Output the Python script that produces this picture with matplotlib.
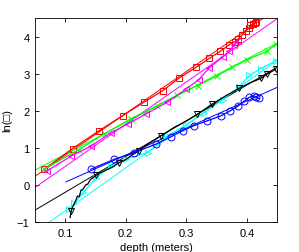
import matplotlib
matplotlib.use("Agg")
import matplotlib.pyplot as plt
import numpy as np

plt.rcParams['font.family'] = ['Liberation Sans', 'DejaVu Sans']

# Red squares
red_x = [0.065, 0.112, 0.156, 0.195, 0.23, 0.261, 0.288, 0.316, 0.338, 0.356, 0.371,
         0.38, 0.386, 0.392, 0.398, 0.403, 0.406, 0.41, 0.413, 0.415]
red_y = [0.42, 0.98, 1.46, 1.87, 2.23, 2.54, 2.88, 3.17, 3.41, 3.6, 3.78,
         3.86, 3.94, 4.04, 4.14, 4.22, 4.3, 4.34, 4.37, 4.38]
# Green crosses
green_x = [0.065, 0.122, 0.165, 0.208, 0.252, 0.285, 0.319, 0.35, 0.376, 0.401, 0.433, 0.449]
green_y = [0.42, 0.95, 1.38, 1.78, 2.14, 2.42, 2.68, 2.93, 3.17, 3.38, 3.6, 3.8]
# Magenta left triangles
mag_x = [0.07, 0.109, 0.142, 0.175, 0.203, 0.233, 0.269, 0.3, 0.321, 0.338, 0.36,
         0.37, 0.379, 0.385]
mag_y = [0.38, 0.77, 1.04, 1.4, 1.64, 1.91, 2.23, 2.59, 2.84, 3.16, 3.44,
         3.6, 3.76, 3.88]
# Cyan right triangles
cyan_x = [0.107, 0.115, 0.13, 0.15, 0.175, 0.2, 0.236, 0.269, 0.3, 0.33, 0.36,
          0.387, 0.404, 0.423, 0.448]
cyan_y = [-0.66, -0.5, -0.2, 0.18, 0.5, 0.7, 0.87, 1.32, 1.62, 1.95, 2.3,
          2.63, 2.95, 3.13, 3.35]
# Black down triangles
black_x = [0.108, 0.110, 0.112, 0.115, 0.118, 0.120, 0.123, 0.126, 0.129, 0.131, 0.134,
           0.137, 0.14, 0.142, 0.146, 0.151, 0.158, 0.165, 0.17, 0.18, 0.189, 0.2,
           0.208, 0.222, 0.235, 0.258, 0.28, 0.3, 0.318, 0.343, 0.365, 0.387,
           0.405, 0.423, 0.434, 0.448]
black_y = [-0.88, -0.7, -0.61, -0.5, -0.4, -0.3, -0.32, -0.15, -0.12, -0.07, 0.0,
           0.02, 0.1, 0.15, 0.2, 0.26, 0.33, 0.38, 0.42, 0.5, 0.6, 0.68,
           0.78, 0.92, 1.08, 1.32, 1.55, 1.72, 1.9, 2.18, 2.4, 2.6,
           2.75, 2.87, 2.99, 3.12]
black_marks = [1, 15, 20, 23, 25, 28, 29, 31, 33, 34, 35]
# Blue circles
blue_x = [0.142, 0.181, 0.214, 0.25, 0.275, 0.294, 0.313, 0.335, 0.357, 0.373,
          0.385, 0.395, 0.404, 0.412, 0.416, 0.42]
blue_y = [0.42, 0.69, 0.87, 1.1, 1.3, 1.46, 1.6, 1.73, 1.86, 2.0,
          2.12, 2.25, 2.36, 2.4, 2.37, 2.33]

# Linear fits (intercept, slope) and x-ranges
fits = {
    'red':     (0.4 - 11.3 * 0.065, 11.3, 0.05, 0.45),
    'lime':    (0.4 - 8.55 * 0.05, 8.55, 0.05, 0.45),
    'magenta': (-0.07 - 11.37 * 0.05, 11.37, 0.05, 0.45),
    'cyan':    (-1.0 - 11.58 * 0.074, 11.58, 0.05, 0.45),
    'black':   (-0.68 - 9.63 * 0.05, 9.63, 0.05, 0.45),
    'blue':    (0.08 - 7.3 * 0.101, 7.3, 0.101, 0.45),
}

fig = plt.figure(figsize=(2.99, 2.53), dpi=100)
ax = fig.add_axes([35 / 299, 1 - 223 / 253, 242 / 299, 204 / 253])

for c, (a, b, x0, x1) in fits.items():
    xs = np.array([x0, x1])
    ax.plot(xs, a + b * xs, color=c, lw=0.7)

ms = 5
ax.plot(red_x, red_y, color='red', marker='s', mfc='none', ms=ms, lw=0.9, mew=0.7)
ax.plot(green_x, green_y, color='lime', marker='x', ms=4, lw=0.9, mew=0.7)
ax.plot(mag_x, mag_y, color='magenta', marker='<', mfc='none', ms=ms, lw=0.9, mew=0.7)
ax.plot(cyan_x, cyan_y, color='cyan', marker='>', mfc='none', ms=ms, lw=0.9, mew=0.7)
ax.plot(black_x, black_y, color='black', lw=0.9)
ax.plot([black_x[i] for i in black_marks], [black_y[i] for i in black_marks],
        ls='none', color='black', marker='v', mfc='none', ms=ms, mew=0.7)
ax.plot(blue_x, blue_y, color='blue', marker='o', mfc='none', ms=ms, lw=0.9, mew=0.7)

ax.set_xlim(0.05, 0.45)
ax.set_ylim(-1, 4.5)
ax.set_xticks([0.1, 0.2, 0.3, 0.4])
ax.set_yticks([-1, 0, 1, 2, 3, 4])
ax.set_xticklabels(['0.1', '0.2', '0.3', '0.4'])
ax.set_yticklabels(['\u22121', '0', '1', '2', '3', '4'])
ax.tick_params(direction='in', top=True, right=True, labelsize=8, length=3, width=0.6, pad=4)
for s in ax.spines.values():
    s.set_linewidth(0.6)
ax.set_xlabel('depth (meters)', fontsize=8, labelpad=3)
ax.set_ylabel('ln(\u25A1)', fontsize=8, labelpad=3)

fig.savefig('out.png', dpi=100)
